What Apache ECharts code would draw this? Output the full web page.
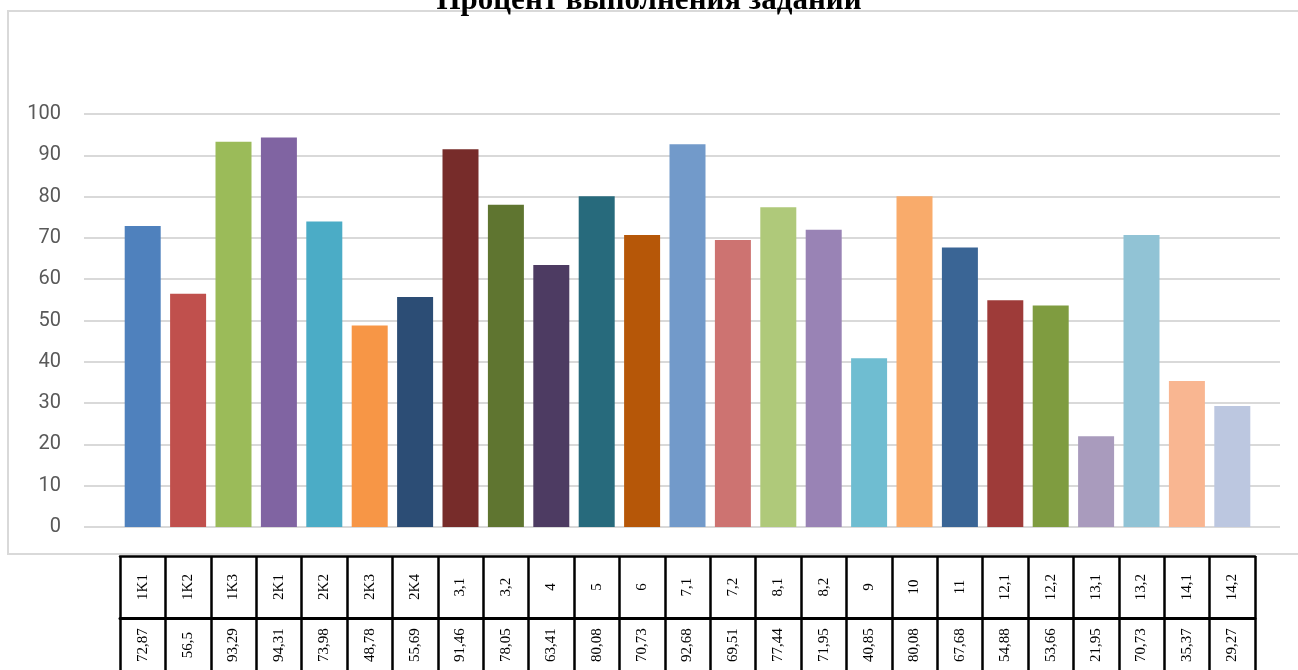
<!DOCTYPE html>
<html><head><meta charset="utf-8">
<script src="https://cdn.jsdelivr.net/npm/echarts@6/dist/echarts.min.js"></script>
<style>html,body{margin:0;padding:0;background:#fff}#c{width:1298px;height:670px}</style>
</head><body><div id="c"></div>
<script>
const categories = ['1K1','1K2','1K3','2K1','2K2','2K3','2K4','3,1','3,2','4','5','6','7,1','7,2','8,1','8,2','9','10','11','12,1','12,2','13,1','13,2','14,1','14,2'];
const values = [72.87,56.5,93.29,94.31,73.98,48.78,55.69,91.46,78.05,63.41,80.08,70.73,92.68,69.51,77.44,71.95,40.85,80.08,67.68,54.88,53.66,21.95,70.73,35.37,29.27];
const valueLabels = ['72,87','56,5','93,29','94,31','73,98','48,78','55,69','91,46','78,05','63,41','80,08','70,73','92,68','69,51','77,44','71,95','40,85','80,08','67,68','54,88','53,66','21,95','70,73','35,37','29,27'];
const yTicks = [0,10,20,30,40,50,60,70,80,90,100];
const colors = ['#4f81bd','#c0504d','#9bbb59','#8064a2','#4bacc6','#f79646','#2c4d75','#772c2a','#5f7530','#4d3b62','#276a7c','#b65708','#729aca','#cd7371','#afc97a','#9983b5','#6fbdd1','#f9ab6b','#3a6595','#9e3b39','#7f9c40','#a99bbd','#91c3d5','#f9b691','#bcc7e0'];

const chart = echarts.init(document.getElementById('c'));
chart.setOption({
  animation: false,
  title: {
    text: 'Процент выполнения заданий',
    left: 'center', top: -20,
    textStyle: {fontFamily: '"Liberation Serif","Times New Roman",serif', fontWeight: 'bold', fontSize: 31, color: '#000'}
  },
  graphic: [{
    type: 'rect', silent: true, z: -10,
    shape: {x: 8, y: 11, width: 1300, height: 543},
    style: {fill: 'none', stroke: '#d9d9d9', lineWidth: 2}
  }],
  grid: [
    {left: 84, right: 18, top: 114, bottom: 143},
    {left: 120, right: 43, top: 114, bottom: 143}
  ],
  xAxis: [
    {gridIndex: 0, type: 'category', data: categories, show: false},
    {gridIndex: 1, type: 'category', data: categories, position: 'bottom', offset: 29,
      axisLine: {show: true, onZero: false, lineStyle: {color: '#000', width: 2.5}},
      axisTick: {show: true, interval: 0, length: 120, lineStyle: {color: '#000', width: 2.5}},
      axisLabel: {interval: 0, rotate: 90, margin: 31, align: 'center', verticalAlign: 'middle',
        fontFamily: '"Liberation Serif","Times New Roman",serif', fontSize: 15, color: '#000'}
    },
    {gridIndex: 1, type: 'category', data: valueLabels, position: 'bottom', offset: 91,
      axisLine: {show: true, onZero: false, lineStyle: {color: '#000', width: 3}},
      axisTick: {show: false},
      axisLabel: {interval: 0, rotate: 90, margin: 27, align: 'center', verticalAlign: 'middle',
        fontFamily: '"Liberation Serif","Times New Roman",serif', fontSize: 15, color: '#000'}
    }
  ],
  yAxis: [
    {gridIndex: 0, type: 'value', min: yTicks[0], max: yTicks[yTicks.length-1], interval: 10,
      axisLine: {show: false}, axisTick: {show: false},
      axisLabel: {margin: 23, fontFamily: 'Roboto, "Open Sans", sans-serif', fontSize: 20, color: '#595959'},
      splitLine: {show: true, lineStyle: {color: '#d9d9d9', width: 2}}
    },
    {gridIndex: 1, type: 'value', min: yTicks[0], max: yTicks[yTicks.length-1], interval: 10, show: false, splitLine: {show: false}}
  ],
  series: [{
    type: 'bar', xAxisIndex: 1, yAxisIndex: 1,
    barWidth: 36,
    data: values.map((v, i) => ({value: v, itemStyle: {color: colors[i]}}))
  }]
});
</script></body></html>
